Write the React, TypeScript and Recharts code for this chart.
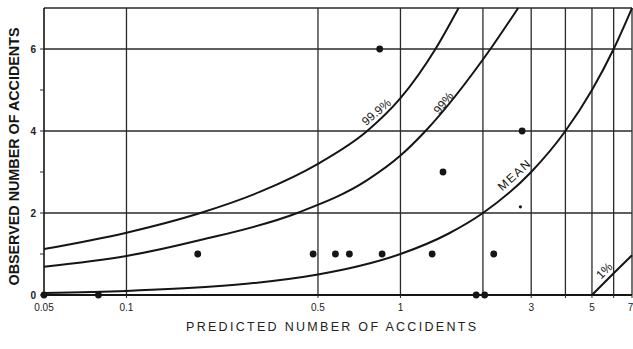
import {
  ComposedChart,
  XAxis,
  YAxis,
  Line,
  Scatter,
  ReferenceLine,
  ReferenceDot,
} from "recharts";

const X_TICKS = [0.05, 0.1, 0.5, 1, 2, 3, 4, 5, 6, 7];
const X_TICK_LABELS = ["0.05", "0.1", "0.5", "1", "", "3", "", "5", "", "7"];
const Y_TICKS = [0, 1, 2, 3, 4, 5, 6];
const Y_TICK_LABELS = ["0", "", "2", "", "4", "", "6"];
const GRID_X = [0.1, 0.5, 1, 2, 3, 4, 5, 6, 7];
const GRID_Y = [2, 4, 6, 7];

// curves
const P999_X = [0.05, 0.1, 0.186, 0.308, 0.5, 0.756, 1, 1.342, 1.63];
const P999_Y = [1.12, 1.52, 2.0, 2.52, 3.2, 4.0, 4.8, 6.0, 7.0];
const P99_X = [0.05, 0.1, 0.186, 0.42, 0.756, 1, 1.234, 2.13, 2.69];
const P99_Y = [0.69, 0.95, 1.34, 2.0, 2.8, 3.4, 4.0, 6.0, 7.0];
const MEAN_X = [0.05, 0.1, 0.2, 0.3, 0.5, 0.7, 1, 1.5, 2, 3, 4, 5, 6, 7];
const MEAN_Y = [0.05, 0.1, 0.2, 0.3, 0.5, 0.7, 1, 1.5, 2, 3, 4, 5, 6, 7];
const P1_X = [5, 6, 7];
const P1_Y = [0, 0.53, 0.97];

// observed sites
const OBS_X = [0.05, 0.079, 0.182, 0.48, 0.579, 0.651, 0.857, 1.305, 2.19, 0.84, 2.78, 1.43, 1.89, 2.03];
const OBS_Y = [0, 0, 1, 1, 1, 1, 1, 1, 1, 6, 4, 3, 0, 0];
const SMALL_X = [2.74];
const SMALL_Y = [2.15];

// curve label anchors
const LABELS = ["99.9%", "99%", "MEAN", "1%"];
const LABEL_X = [0.817, 1.435, 2.61, 5.55];
const LABEL_Y = [4.46, 4.68, 2.93, 0.59];
const LABEL_ROT = [-40, -52, -42, -45];

const zip = (xs: number[], ys: number[]) => xs.map((x, i) => ({ x, y: ys[i] }));

const INK = "#151515";
const GRID = "#2a2a2a";

function CurveLabel(props: any) {
  const { viewBox, caption, rot } = props;
  const cx = viewBox.x + (viewBox.width || 0) / 2;
  const cy = viewBox.y + (viewBox.height || 0) / 2;
  return (
    <text
      x={cx}
      y={cy}
      transform={`rotate(${rot} ${cx} ${cy})`}
      textAnchor="middle"
      dominantBaseline="central"
      fontFamily="Liberation Sans, Arial, sans-serif"
      fontSize={12}
      letterSpacing={caption === "MEAN" ? 1.5 : 0}
      fill={INK}
    >
      {caption}
    </text>
  );
}

function XTitle(props: any) {
  const { viewBox } = props;
  const cx = viewBox.x + viewBox.width / 2 - 7;
  return (
    <text
      x={cx}
      y={viewBox.y + 32}
      textAnchor="middle"
      dominantBaseline="central"
      fontFamily="Liberation Sans, Arial, sans-serif"
      fontSize={12.5}
      textLength={290}
      lengthAdjust="spacing"
      fill="#222"
    >
      PREDICTED NUMBER OF ACCIDENTS
    </text>
  );
}

function YTitle(props: any) {
  const { viewBox } = props;
  const cx = 14;
  const cy = viewBox.y + viewBox.height / 2 + 5;
  return (
    <text
      x={cx}
      y={cy}
      transform={`rotate(-90 ${cx} ${cy})`}
      textAnchor="middle"
      dominantBaseline="central"
      fontFamily="Liberation Sans Narrow, Arial Narrow, Liberation Sans, sans-serif"
      fontWeight="bold"
      fontSize={14}
      textLength={258}
      lengthAdjust="spacingAndGlyphs"
      fill={INK}
    >
      OBSERVED NUMBER OF ACCIDENTS
    </text>
  );
}

const Dot = (r: number) => (p: any) => <circle cx={p.cx} cy={p.cy} r={r} fill={INK} />;

export default function App() {
  const tickStyle = {
    fontFamily: "Liberation Sans, Arial, sans-serif",
    fontSize: 10,
    fill: "#222",
  };
  return (
    <div style={{ width: 633, height: 349, background: "#fff" }}>
      <style>{"body{margin:0}"}</style>
      <ComposedChart
        width={633}
        height={349}
        margin={{ top: 8, right: 1, bottom: 0, left: 0 }}
      >
        <XAxis
          type="number"
          dataKey="x"
          scale="log"
          domain={[0.05, 7]}
          ticks={X_TICKS}
          tickFormatter={(v: number) => X_TICK_LABELS[X_TICKS.indexOf(v)] ?? ""}
          height={54}
          tick={tickStyle}
          tickSize={3}
          tickMargin={6}
          axisLine={{ stroke: INK, strokeWidth: 2 }}
          tickLine={{ stroke: GRID }}
          label={<XTitle />}
        />
        <YAxis
          type="number"
          dataKey="y"
          domain={[0, 7]}
          ticks={Y_TICKS}
          tickFormatter={(v: number) => Y_TICK_LABELS[Y_TICKS.indexOf(v)] ?? ""}
          width={44}
          tick={{ ...tickStyle, fontWeight: "bold", fontSize: 10 }}
          tickSize={4}
          tickMargin={4}
          axisLine={{ stroke: INK, strokeWidth: 1.6 }}
          tickLine={{ stroke: GRID }}
          label={<YTitle />}
        />
        {GRID_X.map((v) => (
          <ReferenceLine key={`gx${v}`} x={v} stroke={GRID} strokeWidth={1.3} />
        ))}
        {GRID_Y.map((v) => (
          <ReferenceLine key={`gy${v}`} y={v} stroke={GRID} strokeWidth={1.5} />
        ))}
        <Line data={zip(P999_X, P999_Y)} dataKey="y" type="monotone" stroke={INK} strokeWidth={2} dot={false} isAnimationActive={false} />
        <Line data={zip(P99_X, P99_Y)} dataKey="y" type="monotone" stroke={INK} strokeWidth={2} dot={false} isAnimationActive={false} />
        <Line data={zip(MEAN_X, MEAN_Y)} dataKey="y" type="monotone" stroke={INK} strokeWidth={2} dot={false} isAnimationActive={false} />
        <Line data={zip(P1_X, P1_Y)} dataKey="y" type="linear" stroke={INK} strokeWidth={2} dot={false} isAnimationActive={false} />
        <Scatter data={zip(OBS_X, OBS_Y)} shape={Dot(3.4)} isAnimationActive={false} />
        <Scatter data={zip(SMALL_X, SMALL_Y)} shape={Dot(1.6)} isAnimationActive={false} />
        {LABELS.map((t, i) => (
          <ReferenceDot
            key={t}
            x={LABEL_X[i]}
            y={LABEL_Y[i]}
            r={0}
            fill="none"
            stroke="none"
            label={<CurveLabel caption={t} rot={LABEL_ROT[i]} />}
          />
        ))}
      </ComposedChart>
    </div>
  );
}
